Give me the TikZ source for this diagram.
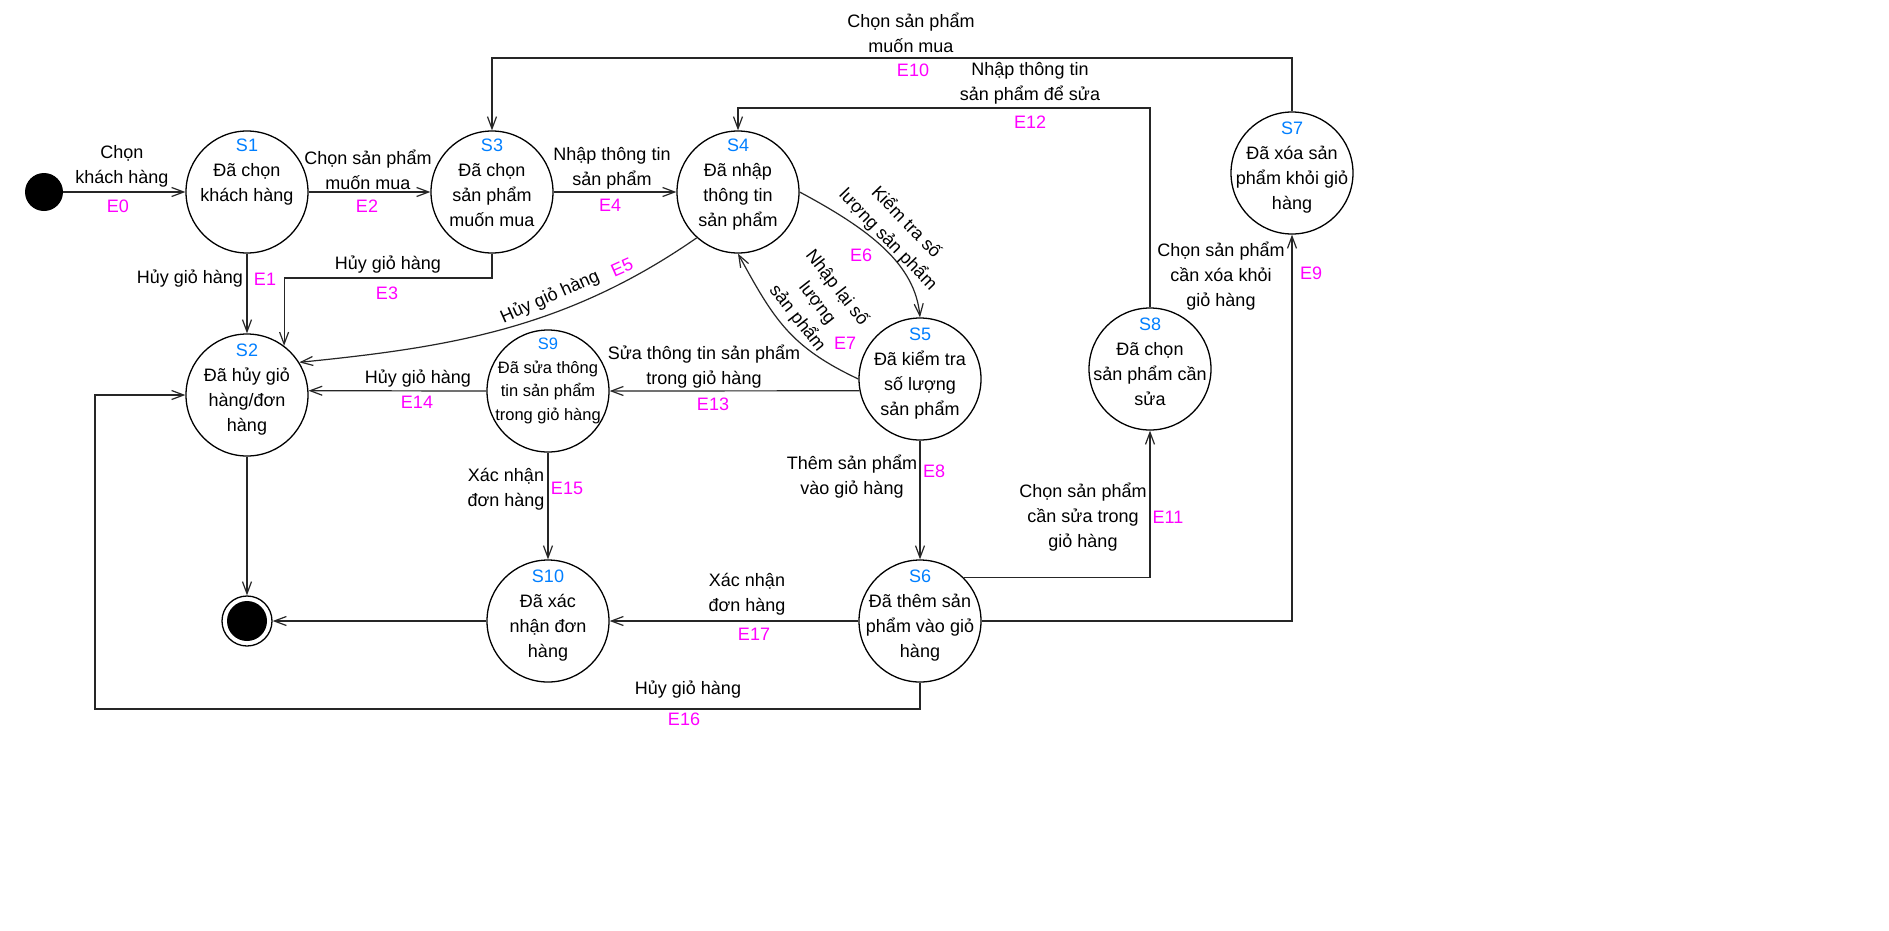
\documentclass[tikz,border=0pt]{standalone}
\usepackage{fontspec}
\setmainfont{Liberation Sans}
\usetikzlibrary{arrows.meta}
\definecolor{snblue}{RGB}{0,127,255}
\definecolor{evmag}{RGB}{255,0,255}
\newcommand{\sn}[1]{\textcolor{snblue}{#1}}

\begin{document}
\begin{tikzpicture}[x=1pt,y=-1pt,>={Straight Barb[length=12pt,width=9pt]},
    font=\fontsize{18}{25}\selectfont,
    state/.style={circle,draw,line width=1.3pt,minimum size=122pt,inner sep=0pt},
    stxt/.style={align=center},
    small/.style={font=\fontsize{16.5}{23.5}\selectfont},
    lbl/.style={align=center},
    ev/.style={text=evmag},
    tr/.style={->,line width=1.2pt,black!85}]
    \fill[white] (0,0) rectangle (1889,930);
    \useasboundingbox (0,0) rectangle (1889,930);
    % trang thai
    \node[circle,fill,minimum size=38pt,inner sep=0pt] (init) at (44,192) {};
    \node[state,label={[stxt,yshift=19.5pt]center:{\sn{S1}\\Đã chọn\\khách hàng}}] (s1) at (247,192) {};
    \node[state,label={[stxt,yshift=5pt]center:{\sn{S2}\\Đã hủy giỏ\\hàng/đơn\\hàng}}] (s2) at (247,395) {};
    \node[state,label={[stxt,yshift=9.5pt]center:{\sn{S3}\\Đã chọn\\sản phẩm\\muốn mua}}] (s3) at (492,192) {};
    \node[state,label={[stxt,yshift=7pt]center:{\sn{S4}\\Đã nhập\\thông tin\\sản phẩm}}] (s4) at (738,192) {};
    \node[state,label={[stxt,yshift=5pt]center:{\sn{S5}\\Đã kiểm tra\\số lượng\\sản phẩm}}] (s5) at (920,379) {};
    \node[state,label={[stxt,yshift=5pt]center:{\sn{S6}\\Đã thêm sản\\phẩm vào giỏ\\hàng}}] (s6) at (920,621) {};
    \node[state,label={[stxt,yshift=5pt]center:{\sn{S7}\\Đã xóa sản\\phẩm khỏi giỏ\\hàng}}] (s7) at (1292,173) {};
    \node[state,label={[stxt,yshift=7.5pt]center:{\sn{S8}\\Đã chọn\\sản phẩm cần\\sửa}}] (s8) at (1150,369) {};
    \node[state,label={[stxt,small,yshift=10pt]center:{\sn{S9}\\Đã sửa thông\\tin sản phẩm\\trong giỏ hàng}}] (s9) at (548,391) {};
    \node[state,label={[stxt,yshift=5pt]center:{\sn{S10}\\Đã xác\\nhận đơn\\hàng}}] (s10) at (548,621) {};
    \node[circle,draw,line width=1.3pt,minimum size=50pt,inner sep=0pt,
      path picture={\fill (path picture bounding box.center) circle (20pt);}] (fin) at (247,621) {};
    % chuyen trang thai
    \draw[tr] (init) -- (s1);
    \draw[tr] (s1) -- (s3);
    \draw[tr] (s3) -- (s4);
    \draw[tr] (s1) -- (s2);
    \draw[tr] (s3.south) -- (s3.south |- 0,278) -| (s2.53);
    \draw[tr] (s4.228) .. controls +(-131,91) and +(150,-15) .. (s2.32);
    \draw[tr] (s4.east) .. controls +(71,38) and +(-5,-53) .. (s5.north);
    \draw[tr] (s5.west) .. controls +(-68,-32) and +(36,66) .. (s4.south);
    \draw[tr] (s5) -- (s6);
    \draw[tr] (s6.east) -| (s7.south);
    \draw[tr] (s7.north) -- (s7.north |- 0,58) -| (s3.north);
    \draw[tr] (s6.45) -| (s8.south);
    \draw[tr] (s8.north) -- (s8.north |- 0,108) -| (s4.north);
    \draw[tr] (s5.191) -- (s9.east);
    \draw[tr] (s9.west) -- (s2.4);
    \draw[tr] (s9) -- (s10);
    \draw[tr] (s6.south) |- (95,709) |- (s2.west);
    \draw[tr] (s6) -- (s10);
    \draw[tr] (s2) -- (fin);
    \draw[tr] (s10) -- (fin);
    % nhan
    \node[lbl] (t0) at (122,166) {Chọn\\khách hàng};
    \node[ev] (e0) at (118,206) {E0};
    \node[lbl] (t1) at (190,279) {Hủy giỏ hàng};
    \node[ev] (e1) at (265,279) {E1};
    \node[lbl] (t2) at (368,170) {Chọn sản phẩm\\muốn mua};
    \node[ev] (e2) at (367,206) {E2};
    \node[lbl] (t3) at (388,265) {Hủy giỏ hàng};
    \node[ev] (e3) at (387,293) {E3};
    \node[lbl] (t4) at (612,168) {Nhập thông tin\\sản phẩm};
    \node[ev] (e4) at (610,205) {E4};
    \node[lbl,rotate=24] (t5) at (550,297) {Hủy giỏ hàng};
    \node[ev,rotate=24] (e5) at (622,267) {E5};
    \node[lbl,rotate=-46] (t6) at (897,231) {Kiểm tra số\\lượng sản phẩm};
    \node[ev] (e6) at (861,255) {E6};
    \node[lbl,rotate=-52] (t7) at (817,303) {Nhập lại số\\lượng\\sản phẩm};
    \node[ev] (e7) at (845,343) {E7};
    \node[lbl] (t8) at (852,477) {Thêm sản phẩm\\vào giỏ hàng};
    \node[ev] (e8) at (934,471) {E8};
    \node[lbl] (t9) at (1221,276) {Chọn sản phẩm\\cần xóa khỏi\\giỏ hàng};
    \node[ev] (e9) at (1311,273) {E9};
    \node[lbl] (t10) at (911,33) {Chọn sản phẩm\\muốn mua};
    \node[ev] (e10) at (913,70) {E10};
    \node[lbl] (t11) at (1083,517) {Chọn sản phẩm\\cần sửa trong\\giỏ hàng};
    \node[ev] (e11) at (1168,517) {E11};
    \node[lbl] (t12) at (1030,83) {Nhập thông tin\\sản phẩm để sửa};
    \node[ev] (e12) at (1030,122) {E12};
    \node[lbl] (t13) at (704,367) {Sửa thông tin sản phẩm\\trong giỏ hàng};
    \node[ev] (e13) at (713,404) {E13};
    \node[lbl] (t14) at (418,379) {Hủy giỏ hàng};
    \node[ev] (e14) at (417,402) {E14};
    \node[lbl] (t15) at (506,489) {Xác nhận\\đơn hàng};
    \node[ev] (e15) at (567,488) {E15};
    \node[lbl] (t16) at (688,690) {Hủy giỏ hàng};
    \node[ev] (e16) at (684,719) {E16};
    \node[lbl] (t17) at (747,594) {Xác nhận\\đơn hàng};
    \node[ev] (e17) at (754,634) {E17};
\end{tikzpicture}
\end{document}
